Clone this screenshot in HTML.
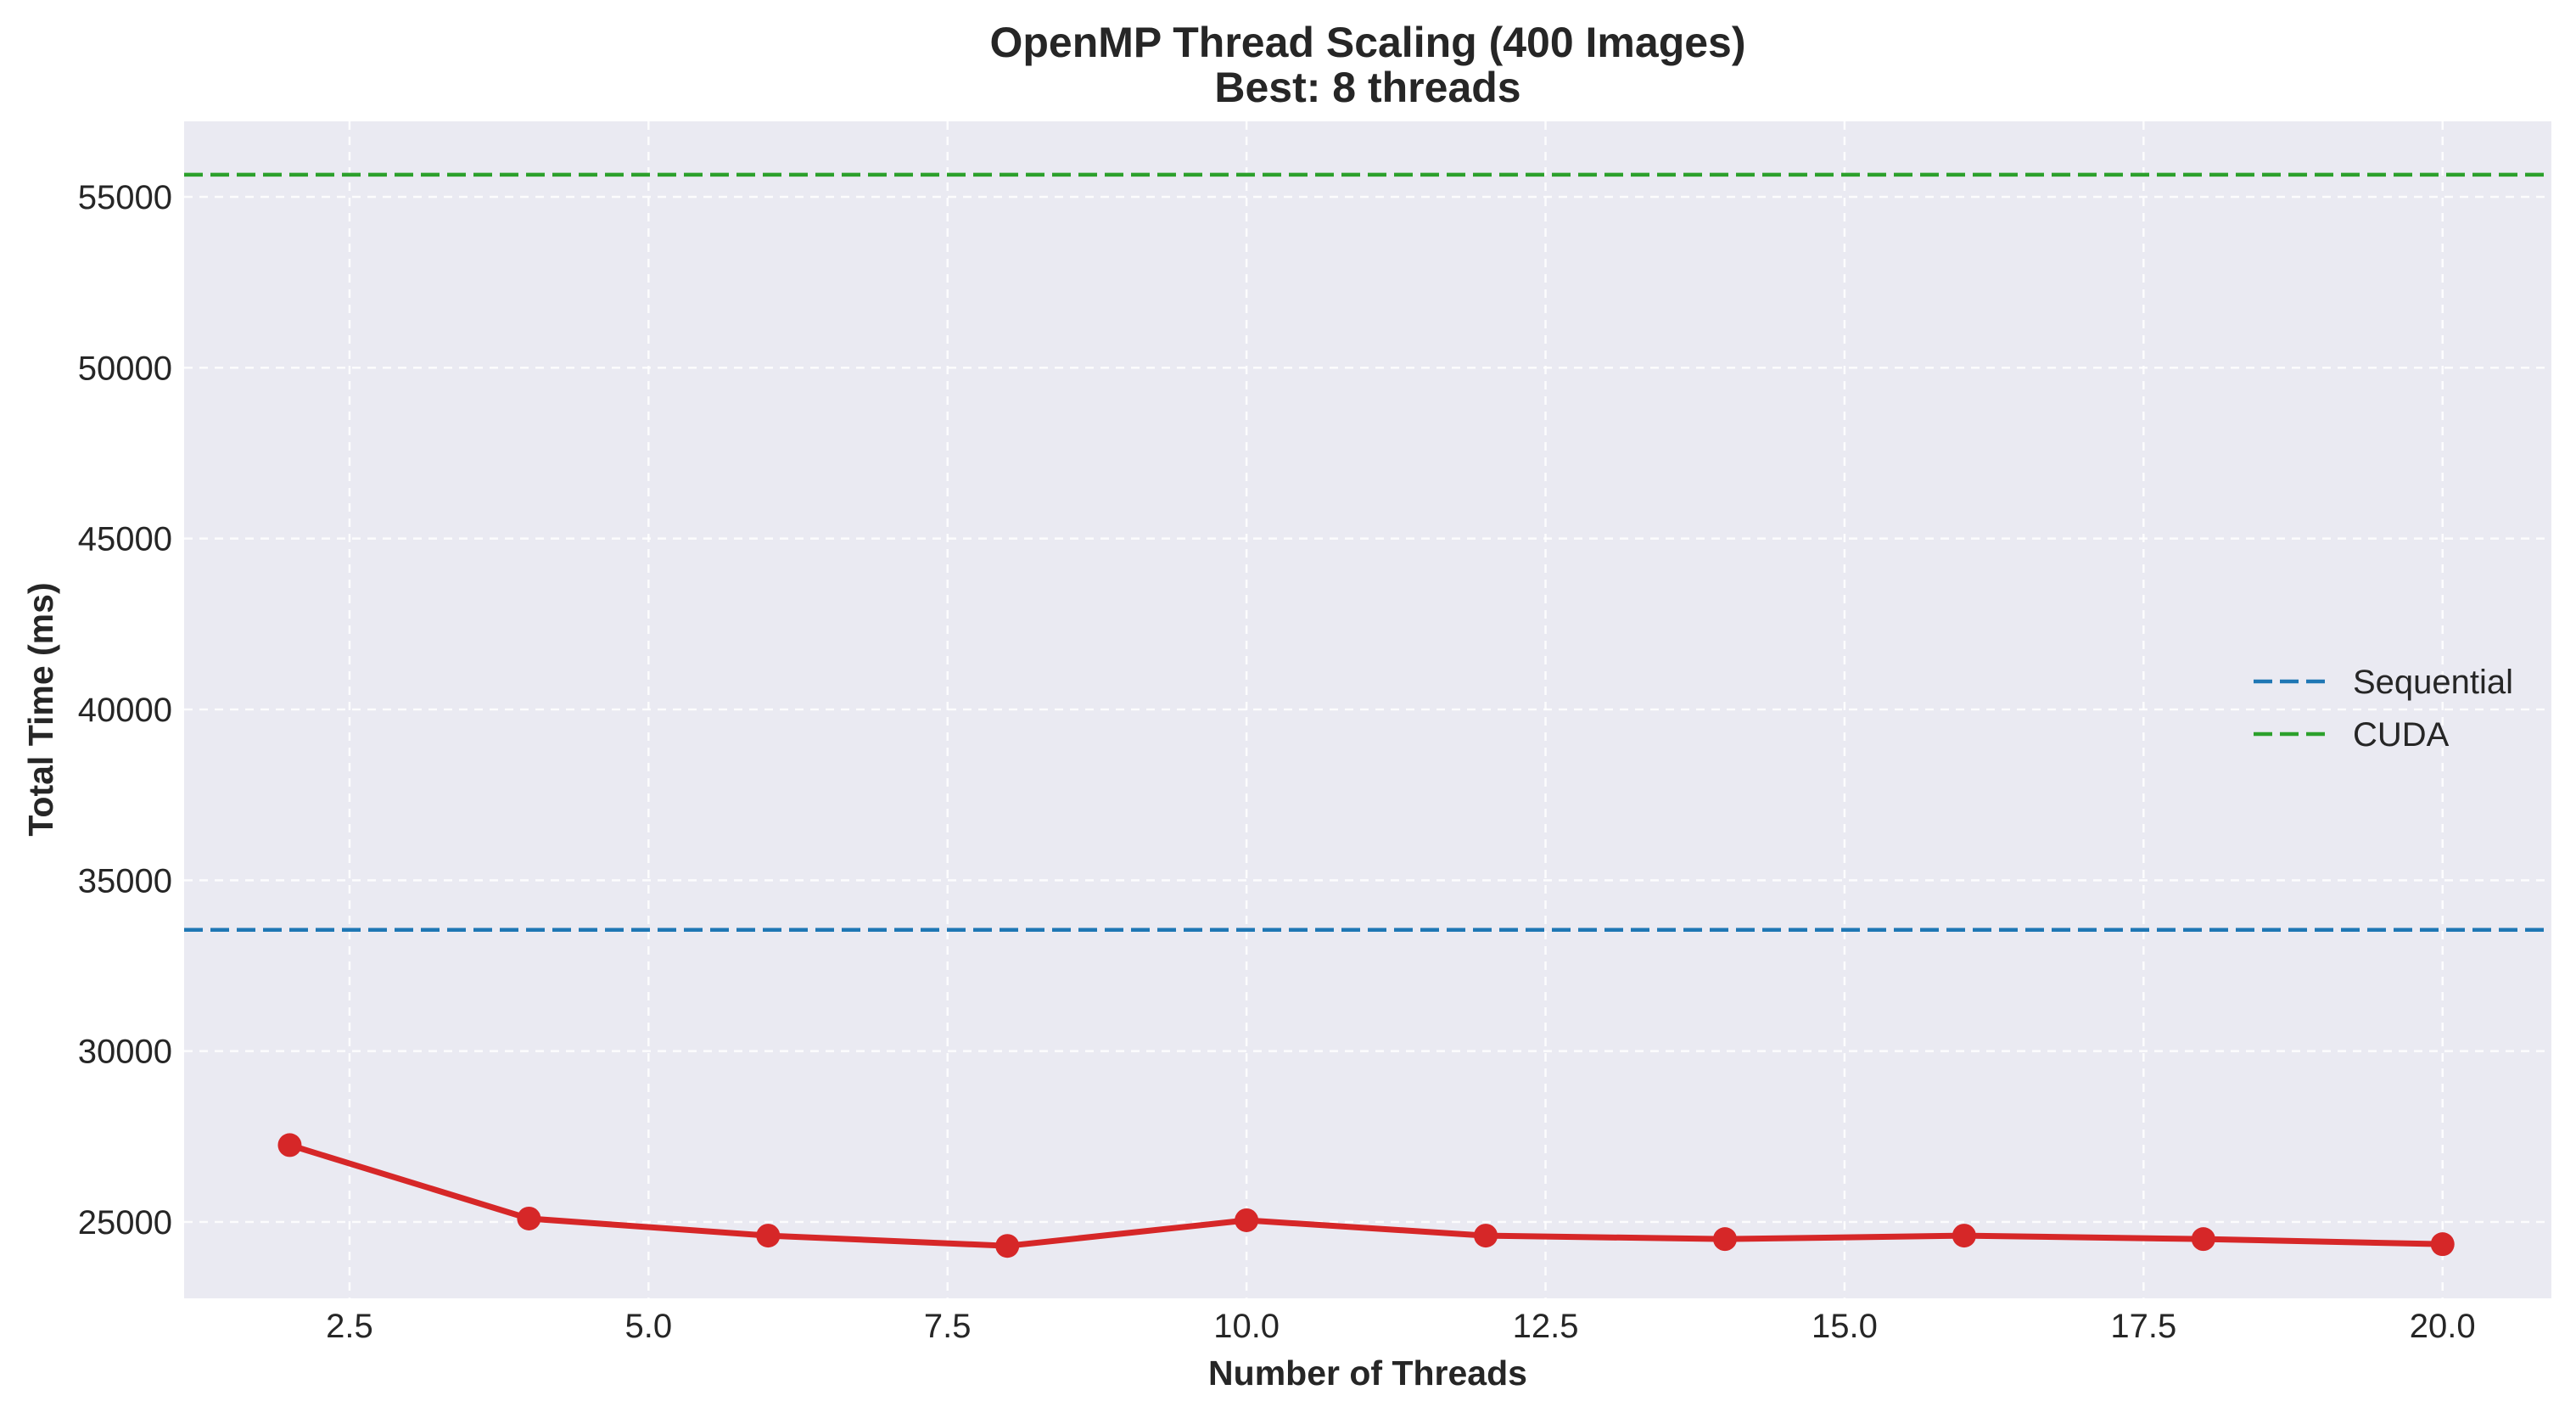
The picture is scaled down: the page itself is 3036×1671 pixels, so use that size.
<!DOCTYPE html>
<html><head><meta charset="utf-8"><style>
html,body{margin:0;padding:0;background:#fff;}
svg{display:block;font-family:"Liberation Sans",sans-serif;}
</style></head><body>
<svg id="chart" width="3036" height="1671" viewBox="0 0 3036 1671" xmlns="http://www.w3.org/2000/svg">
<rect x="217" y="143" width="2790" height="1387" fill="#eaeaf2"/>
<g id="grid"></g>
<g id="refs"></g>
<g id="series"></g>
<g id="ticks"></g>
<text x="1612" y="67" text-anchor="middle" font-size="50" font-weight="bold" fill="#262626">OpenMP Thread Scaling (400 Images)</text>
<text x="1612" y="120" text-anchor="middle" font-size="50" font-weight="bold" fill="#262626">Best: 8 threads</text>
<text x="1612" y="1632" text-anchor="middle" font-size="41" font-weight="bold" fill="#262626">Number of Threads</text>
<text transform="translate(62,836) rotate(-90)" text-anchor="middle" font-size="41" font-weight="bold" fill="#262626">Total Time (ms)</text>
<g>
<line x1="2656" y1="803" x2="2740" y2="803" stroke="#1f77b4" stroke-width="4.5" stroke-dasharray="22,9"/>
<text x="2773" y="817" font-size="40" fill="#262626">Sequential</text>
<line x1="2656" y1="865" x2="2740" y2="865" stroke="#2ca02c" stroke-width="4.5" stroke-dasharray="22,9"/>
<text x="2773" y="879" font-size="40" fill="#262626">CUDA</text>
</g>
</svg>
<script>
const threads = [2,4,6,8,10,12,14,16,18,20];
const times = [27250,25100,24600,24300,25050,24600,24500,24600,24500,24350];
const sequentialTime = [33550];
const cudaTime = [55650];
const xTicks = [2.5,5.0,7.5,10.0,12.5,15.0,17.5,20.0];
const yTicks = [25000,30000,35000,40000,45000,50000,55000];

const L=217,R=3007,T=143,B=1530;
const xMin=1.117,xMax=20.91,yMin=22765,yMax=57210;
const sx=v=>L+(v-xMin)/(xMax-xMin)*(R-L);
const sy=v=>B-(v-yMin)/(yMax-yMin)*(B-T);
const NS="http://www.w3.org/2000/svg";
function mk(tag,attrs,parent){const e=document.createElementNS(NS,tag);for(const k in attrs)e.setAttribute(k,attrs[k]);parent.appendChild(e);return e;}
const grid=document.getElementById('grid'),ticks=document.getElementById('ticks'),refs=document.getElementById('refs'),series=document.getElementById('series');

xTicks.forEach(v=>{
  const g=mk('line',{x1:sx(v),x2:sx(v),y1:T,y2:B,stroke:'#ffffff','stroke-width':2.5,'stroke-dasharray':'10,8','stroke-opacity':0.85},grid);
  
  
  const t=mk('text',{x:sx(v),y:1576,'text-anchor':'middle','font-size':40,fill:'#262626'},ticks);
  t.textContent=v.toFixed(1);
  
  
});
yTicks.forEach(v=>{
  const g=mk('line',{x1:L,x2:R,y1:sy(v),y2:sy(v),stroke:'#ffffff','stroke-width':2.5,'stroke-dasharray':'10,8','stroke-opacity':0.85},grid);
  
  
  const t=mk('text',{x:203,y:sy(v)+14,'text-anchor':'end','font-size':40,fill:'#262626'},ticks);
  t.textContent=String(v);
  
  
});
const seq=mk('line',{x1:L,x2:R,y1:sy(sequentialTime[0]),y2:sy(sequentialTime[0]),stroke:'#1f77b4','stroke-width':4.5,'stroke-dasharray':'22,9'},refs);


const cuda=mk('line',{x1:L,x2:R,y1:sy(cudaTime[0]),y2:sy(cudaTime[0]),stroke:'#2ca02c','stroke-width':4.5,'stroke-dasharray':'22,9'},refs);


const pts=threads.map((t,i)=>sx(t)+','+sy(times[i])).join(' ');
const pl=mk('polyline',{points:pts,fill:'none',stroke:'#d62728','stroke-width':7,'stroke-linejoin':'round'},series);


threads.forEach((t,i)=>{
  const c=mk('circle',{cx:sx(t),cy:sy(times[i]),r:14,fill:'#d62728'},series);
  
  
});
</script>
</body></html>
